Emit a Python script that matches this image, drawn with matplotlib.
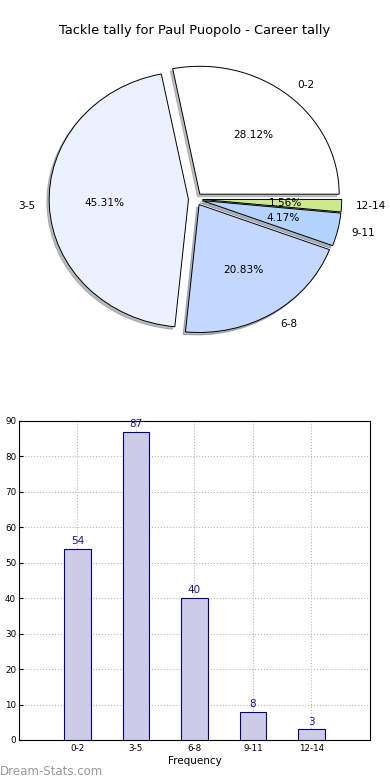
import matplotlib
matplotlib.use("Agg")
import matplotlib.pyplot as plt

# tackle ranges and how many games fall in each
categories = ["0-2", "3-5", "6-8", "9-11", "12-14"]
counts = [54, 87, 40, 8, 3]
pie_colors = ["#ffffff", "#eaf1ff", "#c4d8ff", "#b3d4ff", "#cce98a"]
y_ticks = [0, 10, 20, 30, 40, 50, 60, 70, 80, 90]


def draw_pie(fig):
    # old-style pie: not forced round, so it comes out a little wide
    ax = fig.add_axes([0.0546, 0.5397, 0.893, 0.410])
    ax.pie(
        counts,
        labels=categories,
        colors=pie_colors,
        explode=[0.05] * len(counts),
        autopct="%.2f%%",
        startangle=0,
        shadow={"ox": -0.012, "oy": -0.014, "shade": 0.5},
        wedgeprops={"edgecolor": "black", "linewidth": 0.7},
        textprops={"fontsize": 7.6},
    )
    ax.set_xlim(-1.25, 1.25)
    ax.set_ylim(-1.25, 1.25)
    ax.set_aspect("auto")
    fig.text(0.5, 0.961, "Tackle tally for Paul Puopolo - Career tally",
             ha="center", va="center", fontsize=9.4)


def draw_bars(fig):
    ax = fig.add_axes([0.0487, 0.0513, 0.9, 0.409])
    xs = list(range(len(categories)))
    bars = ax.bar(xs, counts, width=0.45, color="#ccccE6",
                  edgecolor="#000080", linewidth=0.8, zorder=3)
    for b, v in zip(bars, counts):
        ax.text(b.get_x() + b.get_width() / 2, v + 0.8, str(v),
                ha="center", va="bottom", fontsize=7.5, color="#1a1a90",
                zorder=4)
    ax.set_xlim(-1, 5)
    ax.set_ylim(0, 90)
    ax.set_xticks(xs)
    ax.set_xticklabels(categories, fontsize=6.3)
    ax.set_yticks(y_ticks)
    ax.tick_params(axis="y", labelsize=6.3, direction="in", length=3, pad=2)
    ax.tick_params(axis="x", direction="in", length=3, pad=3)
    ax.grid(True, linestyle=":", color="#b8b8b8", linewidth=0.8, zorder=0)
    ax.set_xlabel("Frequency", fontsize=7.5, labelpad=2)


def main():
    fig = plt.figure(figsize=(3.9, 7.8), dpi=100)
    draw_pie(fig)
    draw_bars(fig)
    fig.text(0.0, 0.0115, "Dream-Stats.com", fontsize=8.5, color="#999999",
             ha="left", va="center")
    fig.savefig("out.png", dpi=100)
    plt.close(fig)


if __name__ == "__main__":
    main()
